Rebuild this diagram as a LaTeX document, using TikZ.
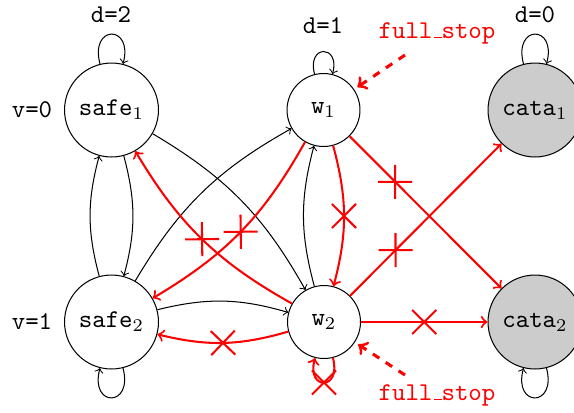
\documentclass[tikz,border=0pt]{standalone}
\usetikzlibrary{shapes.misc}
\newcommand{\ulbar}{\leavevmode\kern.06em\vbox{\hrule width .3em}}
\begin{document}
\begin{tikzpicture}[x=0.390625pt,y=0.390625pt,
  big/.style={circle,draw,minimum size=36.7pt,inner sep=0pt,font=\ttfamily},
  small/.style={circle,draw,minimum size=28.5pt,inner sep=0pt,font=\ttfamily},
  catas/.style={big,fill=gray!40},
  lab/.style={font=\ttfamily,inner sep=0pt},
  redlab/.style={font=\ttfamily,inner sep=0pt,text=red},
  tr/.style={->,bend left=15},
  bad/.style={->,red,thick},
  cut/.style={sloped,draw=red,thick,cross out,minimum size=8.6pt,inner sep=0pt},
  hint/.style={->,red,very thick,dashed,shorten >=1.5pt}]
\useasboundingbox (0,0) rectangle (574,-412);
% states
\node[big] (safe1) at (111.5,-110) {safe$_1$};
\node[big] (safe2) at (111.5,-322) {safe$_2$};
\node[small] (w1) at (323.5,-110) {w$_1$};
\node[small] (w2) at (324,-322) {w$_2$};
\node[catas] (cata1) at (535,-110) {cata$_1$};
\node[catas] (cata2) at (535,-322) {cata$_2$};
% labels
\node[lab] (v0) at (32,-110) {v=0};
\node[lab] (v1) at (32,-322) {v=1};
\node[lab] (d2) at (111,-15) {d=2};
\node[lab] (d1) at (323,-26) {d=1};
\node[lab] (d0) at (535,-15) {d=0};
\node[redlab] (fs1) at (437,-33) {full\ulbar stop};
\node[redlab] (fs2) at (437,-395) {full\ulbar stop};
\coordinate (fs1s) at (405,-55);
\coordinate (fs2s) at (405,-375);
% loops
\draw[->] (safe1.104) .. controls +(105:41) and +(75:41) .. (safe1.76);
\draw[->] (cata1.104) .. controls +(105:41) and +(75:41) .. (cata1.76);
\draw[->] (w1.104) .. controls +(105:31) and +(75:31) .. (w1.76);
\draw[->] (safe2.-76) .. controls +(-75:41) and +(-105:41) .. (safe2.-104);
\draw[->] (cata2.-76) .. controls +(-75:41) and +(-105:41) .. (cata2.-104);
\draw[bad] (w2.-76) .. controls +(-75:34) and +(-105:34) .. node[cut,pos=0.5]{} (w2.-104);
% black transitions
\draw[tr] (safe1) to (safe2);
\draw[tr] (safe2) to (safe1);
\draw[tr] (safe1) to (w2);
\draw[tr] (safe2) to (w1);
\draw[tr] (safe2) to (w2);
\draw[tr] (w2) to (w1);
% red transitions
\draw[bad] (w1) to[bend left=15] node[cut]{} (w2);
\draw[bad] (w1) to[bend left=15] node[cut]{} (safe2);
\draw[bad] (w2) to[bend left=15] node[cut]{} (safe1);
\draw[bad] (w2) to[bend left=15] node[cut]{} (safe2);
\draw[bad] (w1) -- node[cut,pos=0.3]{} (cata2);
\draw[bad] (w2) -- node[cut,pos=0.3]{} (cata1);
\draw[bad] (w2) -- node[cut]{} (cata2);
% full stop hints
\draw[hint] (fs1s) -- (w1);
\draw[hint] (fs2s) -- (w2);
\end{tikzpicture}
\end{document}
